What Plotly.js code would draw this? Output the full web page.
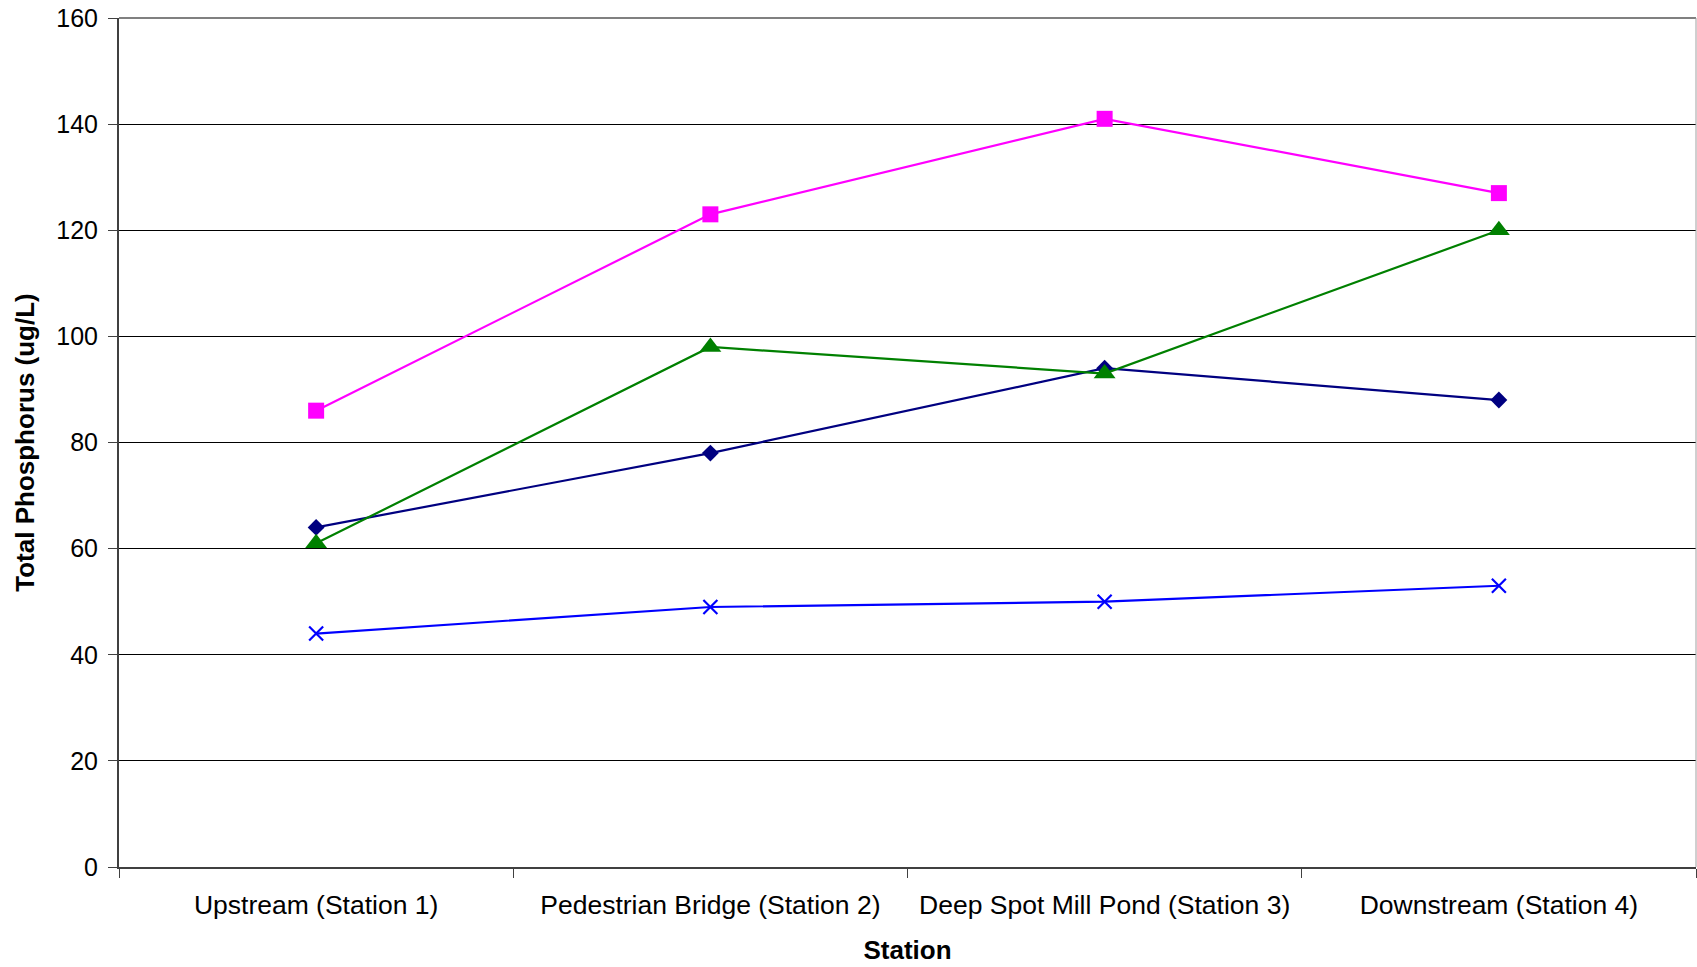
<!DOCTYPE html>
<html>
<head>
<meta charset="utf-8">
<script src="https://cdn.plot.ly/plotly-3.0.1.min.js"></script>
<style>
  html, body { margin: 0; padding: 0; background: #ffffff; }
  #chart { width: 1697px; height: 967px; }
</style>
</head>
<body>
<div id="chart"></div>
<script>
// Station names along the river
const stations = [
  "Upstream (Station 1)",
  "Pedestrian Bridge (Station 2)",
  "Deep Spot Mill Pond (Station 3)",
  "Downstream (Station 4)"
];

// Total phosphorus (ug/L) per sampling event
const seriesA = [64, 78, 94, 88];   // navy diamonds
const seriesB = [86, 123, 141, 127]; // magenta squares
const seriesC = [61, 98, 93, 120];  // green triangles
const seriesD = [44, 49, 50, 53];   // blue crosses

const yTicks = [0, 20, 40, 60, 80, 100, 120, 140, 160];

const font = "Arial, 'Liberation Sans', sans-serif";

function line(y, color, symbol, size, extra) {
  return Object.assign({
    x: stations,
    y: y,
    type: "scatter",
    mode: "lines+markers",
    line: { color: color, width: 2.2 },
    marker: { color: color, symbol: symbol, size: size },
    hoverinfo: "x+y",
    showlegend: false
  }, extra || {});
}

const traces = [
  line(seriesA, "#000080", "diamond", 13),
  line(seriesB, "#FF00FF", "square", 16),
  line(seriesC, "#008000", "triangle-up", 19),
  line(seriesD, "#0000FF", "x-thin", 14, {
    marker: { color: "#0000FF", symbol: "x-thin", size: 14, line: { color: "#0000FF", width: 2.2 } }
  })
];

const layout = {
  width: 1697,
  height: 967,
  margin: { l: 119, r: 1, t: 18, b: 100 },
  paper_bgcolor: "#ffffff",
  plot_bgcolor: "#ffffff",
  font: { family: font, color: "#000000" },
  xaxis: {
    type: "category",
    range: [-0.5, 3.5],
    tickson: "boundaries",
    ticks: "outside",
    ticklen: 9,
    tickwidth: 1,
    tickcolor: "#404040",
    ticklabelstandoff: 13,
    showgrid: false,
    showline: true,
    linecolor: "#404040",
    linewidth: 2,
    tickfont: { family: font, size: 26.5, color: "#000000" },
    title: { text: "<b>Station</b>", font: { family: font, size: 26, color: "#000000" }, standoff: 22 },
    automargin: false,
    fixedrange: true
  },
  yaxis: {
    range: [0, 160],
    tickvals: yTicks,
    ticktext: yTicks.map(String),
    ticks: "outside",
    ticklen: 9,
    tickwidth: 1,
    tickcolor: "#404040",
    ticklabelstandoff: 5,
    showgrid: true,
    gridcolor: "#000000",
    gridwidth: 1,
    zeroline: false,
    showline: true,
    linecolor: "#404040",
    linewidth: 2,
    tickfont: { family: font, size: 25, color: "#000000" },
    title: { text: "<b>Total Phosphorus (ug/L)</b>", font: { family: font, size: 26, color: "#000000" }, standoff: 14 },
    automargin: false,
    fixedrange: true
  },
  shapes: [
    // top and right edges of the plot frame
    { type: "line", xref: "paper", yref: "paper", x0: 0, x1: 1, y0: 1, y1: 1,
      line: { color: "#808080", width: 2 }, layer: "above" },
    { type: "line", xref: "paper", yref: "paper", x0: 1, x1: 1, y0: 0, y1: 1,
      line: { color: "#a0a0a0", width: 1 }, layer: "above" }
  ]
};

Plotly.newPlot("chart", traces, layout, { displayModeBar: false, staticPlot: true });
</script>
</body>
</html>
